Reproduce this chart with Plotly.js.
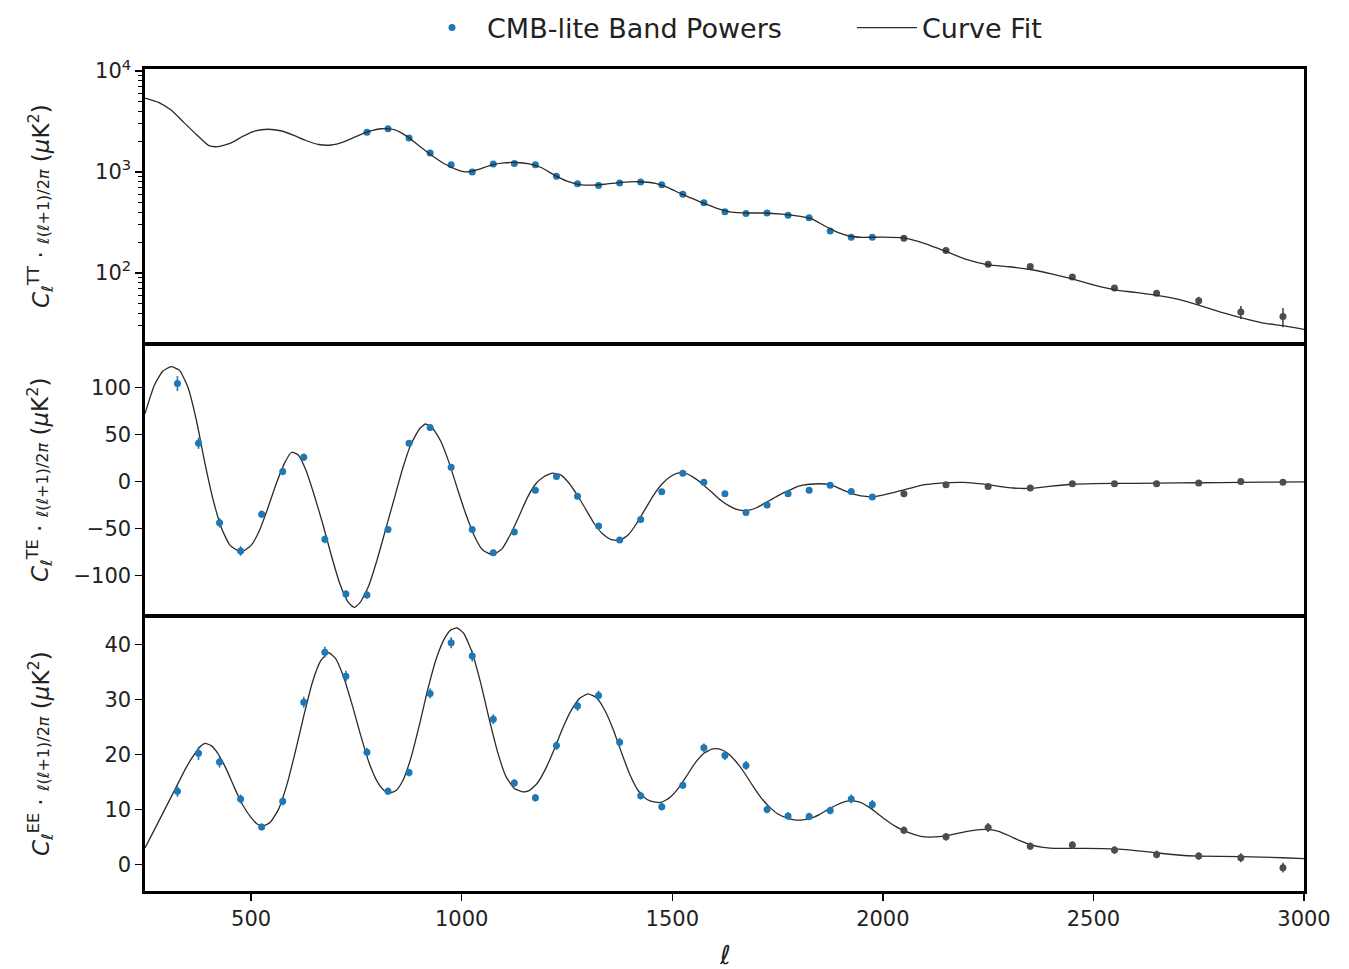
<!DOCTYPE html>
<html>
<head>
<meta charset="utf-8">
<script src="https://cdn.plot.ly/plotly-3.0.1.min.js"></script>
<style>html,body{margin:0;padding:0;background:#fff;}#chart{width:1349px;height:969px;}</style>
</head>
<body>
<div id="chart"></div>
<script>
// ---- Band powers: TT (ell 775-2950) ----
const ellTT = [775, 825, 875, 925, 975, 1025, 1075, 1125, 1175, 1225, 1275, 1325, 1375, 1425, 1475, 1525, 1575, 1625, 1675, 1725, 1775, 1825, 1875, 1925, 1975, 2050, 2150, 2250, 2350, 2450, 2550, 2650, 2750, 2850, 2950];
const dTT = [2480, 2680, 2170, 1540, 1180, 1000, 1200, 1210, 1180, 906, 763, 733, 779, 796, 745, 600, 494, 403, 388, 391, 373, 351, 260, 226, 226, 220, 167, 122, 116, 91, 71, 63, 53, 41, 37];
const eTT = [60, 60, 50, 40, 30, 25, 28, 28, 28, 22, 18, 17, 18, 18, 17, 15, 12, 10, 10, 10, 10, 10, 8, 7, 7, 6, 5, 4, 4, 4, 4, 4, 5, 6, 8];

// ---- Band powers: TE and EE (ell 325-2950) ----
const ellPol = [325, 375, 425, 475, 525, 575, 625, 675, 725, 775, 825, 875, 925, 975, 1025, 1075, 1125, 1175, 1225, 1275, 1325, 1375, 1425, 1475, 1525, 1575, 1625, 1675, 1725, 1775, 1825, 1875, 1925, 1975, 2050, 2150, 2250, 2350, 2450, 2550, 2650, 2750, 2850, 2950];
const dTE = [104, 40.5, -44, -74, -35, 10.6, 25.7, -61.6, -119.7, -120.8, -51, 40.5, 57.4, 15.1, -51, -75.7, -53.9, -9.5, 5.3, -15.8, -47.5, -62.3, -40.5, -11, 8.8, -1, -13, -33, -25, -13, -9.5, -4.2, -10.6, -16.5, -13, -3.5, -5.3, -7, -2.5, -2.5, -2.5, -1.8, 0, -1];
const eTE = [8, 6, 5, 5, 4, 4, 4, 4, 4, 4, 3, 3, 3, 3, 3, 3, 3, 3, 3, 3, 3, 3, 3, 2.5, 2.5, 2.5, 2.5, 2.5, 2.5, 2.5, 2.5, 2.5, 2.5, 2.5, 2, 2, 2, 2, 2, 2, 2, 2, 2, 2];
const dEE = [13.3, 20.2, 18.6, 11.9, 6.8, 11.5, 29.5, 38.6, 34.2, 20.4, 13.3, 16.7, 31.1, 40.3, 37.9, 26.4, 14.8, 12.1, 21.6, 28.8, 30.7, 22.2, 12.5, 10.5, 14.4, 21.2, 19.8, 18.0, 10.0, 8.8, 8.7, 9.8, 11.9, 10.9, 6.2, 5.0, 6.7, 3.3, 3.5, 2.6, 1.8, 1.5, 1.2, -0.6];
const eEE = [1.0, 1.2, 1.0, 0.8, 0.6, 0.8, 1.0, 1.0, 1.0, 0.8, 0.7, 0.7, 0.9, 1.0, 1.0, 0.9, 0.7, 0.7, 0.8, 0.9, 0.9, 0.8, 0.7, 0.7, 0.7, 0.8, 0.8, 0.8, 0.7, 0.7, 0.7, 0.7, 0.8, 0.8, 0.7, 0.7, 0.8, 0.7, 0.7, 0.7, 0.7, 0.7, 0.8, 0.9];

// ---- Curve fit ----
const ellFitTT = [248, 280, 310, 340, 370, 400, 420, 450, 480, 510, 540, 570, 600, 630, 660, 690, 720, 750, 780, 810, 840, 870, 900, 930, 960, 990, 1010, 1040, 1070, 1100, 1130, 1160, 1190, 1220, 1250, 1280, 1310, 1340, 1380, 1420, 1460, 1490, 1520, 1550, 1580, 1610, 1640, 1680, 1720, 1760, 1800, 1830, 1860, 1890, 1920, 1950, 2000, 2050, 2100, 2150, 2200, 2250, 2300, 2350, 2400, 2450, 2500, 2550, 2600, 2650, 2700, 2750, 2800, 2850, 2900, 2950, 3000];
const fitTT = [5400, 4900, 4100, 3100, 2350, 1820, 1780, 1920, 2250, 2550, 2650, 2560, 2320, 2050, 1870, 1850, 1990, 2250, 2520, 2680, 2620, 2250, 1800, 1450, 1200, 1050, 1000, 1060, 1170, 1230, 1240, 1200, 1100, 930, 810, 750, 740, 755, 790, 800, 770, 700, 610, 540, 480, 430, 400, 392, 392, 382, 365, 345, 295, 255, 232, 225, 226, 222, 195, 163, 135, 120, 115, 108, 98, 87, 76, 68, 64, 60, 55, 48, 41, 36, 32, 30, 27.5];
const ellFitTE = [248, 270, 290, 310, 330, 350, 370, 390, 410, 430, 450, 476, 500, 520, 540, 560, 580, 596, 612, 630, 650, 670, 690, 710, 730, 745, 760, 780, 800, 820, 840, 860, 880, 900, 914, 930, 950, 970, 990, 1010, 1030, 1050, 1073, 1095, 1115, 1135, 1155, 1175, 1195, 1215, 1235, 1255, 1275, 1295, 1315, 1335, 1355, 1376, 1395, 1415, 1435, 1455, 1475, 1495, 1515, 1535, 1555, 1575, 1595, 1615, 1635, 1655, 1677, 1700, 1720, 1740, 1760, 1780, 1800, 1825, 1850, 1870, 1890, 1910, 1935, 1960, 1980, 2000, 2025, 2050, 2075, 2100, 2130, 2160, 2190, 2220, 2250, 2280, 2310, 2340, 2370, 2400, 2450, 2500, 2600, 2700, 2800, 2900, 3000];
const fitTE = [72, 102, 117, 122, 118, 100, 65, 20, -20, -50, -68, -75, -68, -52, -28, -2, 20, 31, 28, 12, -15, -45, -78, -108, -128, -134, -128, -110, -82, -50, -18, 14, 40, 56, 61, 57, 43, 20, -8, -35, -58, -73, -78, -72, -57, -38, -18, -3, 5, 8.8, 7, -2, -15, -30, -45, -56, -62, -62.5, -57, -45, -30, -15, -3, 5, 9, 8, 3, -4, -12, -20, -26, -30, -31, -28, -23, -18, -13, -9, -5, -3, -2.5, -3, -6, -10, -14, -16, -16, -14.5, -12, -9, -6, -3.5, -2, -1.2, -1, -2, -3.5, -5.5, -7, -7.5, -6.5, -5, -3, -2.3, -2, -1.6, -1.2, -0.8, -0.5];
const ellFitEE = [248, 265, 285, 305, 325, 345, 365, 380, 391, 405, 420, 440, 460, 480, 500, 515, 528, 545, 565, 585, 605, 625, 645, 665, 684, 700, 720, 740, 760, 780, 800, 815, 830, 845, 860, 880, 900, 920, 940, 960, 975, 989, 1005, 1025, 1045, 1065, 1085, 1105, 1125, 1145, 1160, 1180, 1200, 1220, 1240, 1260, 1280, 1300, 1320, 1340, 1360, 1380, 1400, 1420, 1440, 1460, 1475, 1495, 1515, 1535, 1555, 1575, 1595, 1610, 1630, 1650, 1670, 1690, 1710, 1730, 1750, 1770, 1790, 1810, 1830, 1850, 1870, 1890, 1910, 1925, 1945, 1965, 1985, 2005, 2030, 2060, 2090, 2110, 2140, 2170, 2200, 2230, 2250, 2275, 2300, 2325, 2350, 2380, 2420, 2480, 2550, 2600, 2650, 2700, 2750, 2850, 2950, 3000];
const fitEE = [3.0, 5.5, 8.5, 11.5, 14.5, 17.5, 20, 21.5, 22, 21.6, 20.3, 17.5, 14, 10.8, 8.5, 7.3, 7, 7.6, 10, 14.5, 20.5, 27, 33, 37, 38.5, 37.5, 34, 29, 23.5, 18.5, 15, 13.5, 13, 13.5, 15.2, 19.5, 25.5, 32, 37.5, 41.2, 42.7, 43, 42, 38.5, 33, 26.5, 20.5, 16, 13.8, 13.2, 13.4, 14.8, 17.5, 21, 24.8, 28, 30.2, 31, 30.3, 28, 24.5, 20.2, 16.2, 13.3, 11.8, 11.3, 11.3, 12.2, 13.9, 16.2, 18.5, 20.2, 21, 21, 20.3, 18.8, 16.8, 14.4, 12.2, 10.5, 9.2, 8.5, 8.1, 8.1, 8.4, 9.1, 10, 10.8, 11.4, 11.6, 11.3, 10.5, 9.4, 8.2, 6.9, 5.8, 5.1, 4.95, 5.1, 5.5, 6, 6.3, 6.35, 6, 5.2, 4.3, 3.6, 3.1, 2.9, 2.9, 2.8, 2.5, 2.1, 1.7, 1.5, 1.4, 1.2, 1.05];

const BLUE = '#1f77b4', GRAY = '#4d4d4d', LINE = '#2b2b2b';
const SPLIT = 2000;

function splitIdx(xs, hi) { return xs.map((x, i) => i).filter(i => hi ? xs[i] > SPLIT : xs[i] <= SPLIT); }
function pick(arr, idx) { return idx.map(i => arr[i]); }

function points(xs, ys, es, xa, ya, showLegend) {
  const out = [];
  [false, true].forEach(hi => {
    const idx = splitIdx(xs, hi);
    const col = hi ? GRAY : BLUE;
    out.push({
      type: 'scatter', mode: 'markers', x: pick(xs, idx), y: pick(ys, idx),
      xaxis: xa, yaxis: ya,
      name: 'CMB-lite Band Powers', legendgroup: 'bp', showlegend: showLegend && !hi,
      marker: {color: col, size: 7, symbol: 'circle'},
      error_y: {type: 'data', array: pick(es, idx), color: col, thickness: 1.6, width: 0}
    });
  });
  return out;
}
function fit(xs, ys, xa, ya, showLegend) {
  return {type: 'scatter', mode: 'lines', x: xs, y: ys, xaxis: xa, yaxis: ya,
    name: 'Curve Fit', legendgroup: 'fit', showlegend: showLegend,
    line: {color: LINE, width: 1.3, shape: 'spline', smoothing: 0.5}};
}

const data = [
  ...points(ellTT, dTT, eTT, 'x', 'y', true),
  fit(ellFitTT, fitTT, 'x', 'y', true),
  fit(ellFitTE, fitTE, 'x2', 'y2', false),
  ...points(ellPol, dTE, eTE, 'x2', 'y2', false),
  fit(ellFitEE, fitEE, 'x3', 'y3', false),
  ...points(ellPol, dEE, eEE, 'x3', 'y3', false)
];

const W = 1349, H = 969;
const xd = [145 / W, 1304 / W];
const yTop = [1 - 343 / H, 1 - 69 / H];
const yMid = [1 - 615 / H, 1 - 345 / H];
const yBot = [1 - 891 / H, 1 - 617 / H];
const FONT = 'DejaVu Sans, sans-serif';
const xr = [248, 3000];

function xax(anchor, labels) {
  return {domain: xd, anchor: anchor, range: xr, showgrid: false, zeroline: false,
    showline: true, mirror: true, linecolor: 'black', linewidth: 2.6,
    ticks: labels ? 'outside' : '', ticklen: 7, tickwidth: 1.5, tickcolor: 'black',
    showticklabels: labels, tickvals: [500, 1000, 1500, 2000, 2500, 3000],
    tickfont: {family: FONT, size: 21, color: '#222'}};
}
function yax(domain, anchor, extra) {
  return Object.assign({domain: domain, anchor: anchor, showgrid: false, zeroline: false,
    showline: true, mirror: true, linecolor: 'black', linewidth: 2.6,
    ticks: 'outside', ticklen: 7, tickwidth: 1.5, tickcolor: 'black',
    tickfont: {family: FONT, size: 21, color: '#222'}}, extra);
}

const ylab = (pol) => '<i>C</i><sub><i>ℓ</i></sub><sup>' + pol + '</sup> · <span style="font-size:16px"><i>ℓ</i>(<i>ℓ</i>+1)/2<i>π</i></span> (<i>μ</i>K<sup>2</sup>)';

const layout = {
  width: W, height: H,
  margin: {l: 0, r: 0, t: 0, b: 0},
  paper_bgcolor: 'white', plot_bgcolor: 'white',
  font: {family: FONT, color: '#222'},
  showlegend: true,
  legend: {orientation: 'h', x: 417 / W, xanchor: 'left', y: 1 - 28 / H, yanchor: 'middle',
    font: {family: FONT, size: 27, color: '#222'}, bgcolor: 'rgba(0,0,0,0)', itemwidth: 60,
    entrywidth: 360, traceorder: 'normal'},
  xaxis: xax('y', false),
  xaxis2: xax('y2', false),
  xaxis3: xax('y3', true),
  yaxis: yax(yTop, 'x', {type: 'log', range: [Math.log10(20.2), 4.02], tickvals: [100, 1000, 10000],
    ticktext: ['10<sup>2</sup>', '10<sup>3</sup>', '10<sup>4</sup>'],
    minor: {ticks: 'outside', ticklen: 4, tickwidth: 1, tickcolor: 'black',
      tickvals: [30, 40, 50, 60, 70, 80, 90, 200, 300, 400, 500, 600, 700, 800, 900, 2000, 3000, 4000, 5000, 6000, 7000, 8000, 9000]}}),
  yaxis2: yax(yMid, 'x2', {range: [-142, 145], tickvals: [-100, -50, 0, 50, 100],
    ticktext: ['−100', '−50', '0', '50', '100']}),
  yaxis3: yax(yBot, 'x3', {range: [-4.85, 45], tickvals: [0, 10, 20, 30, 40]}),
  annotations: [
    {text: ylab('TT'), xref: 'paper', yref: 'paper', x: 40 / W, y: (yTop[0] + yTop[1]) / 2, textangle: -90, showarrow: false, font: {family: FONT, size: 23, color: '#222'}, xanchor: 'center', yanchor: 'middle'},
    {text: ylab('TE'), xref: 'paper', yref: 'paper', x: 40 / W, y: (yMid[0] + yMid[1]) / 2, textangle: -90, showarrow: false, font: {family: FONT, size: 23, color: '#222'}, xanchor: 'center', yanchor: 'middle'},
    {text: ylab('EE'), xref: 'paper', yref: 'paper', x: 40 / W, y: (yBot[0] + yBot[1]) / 2, textangle: -90, showarrow: false, font: {family: FONT, size: 23, color: '#222'}, xanchor: 'center', yanchor: 'middle'},
    {text: '<i>ℓ</i>', xref: 'paper', yref: 'paper', x: 725 / W, y: 1 - 955 / H, showarrow: false, font: {family: FONT, size: 26, color: '#222'}, xanchor: 'center', yanchor: 'middle'}
  ]
};

Plotly.newPlot('chart', data, layout, {displayModeBar: false, staticPlot: true});
</script>
</body>
</html>
